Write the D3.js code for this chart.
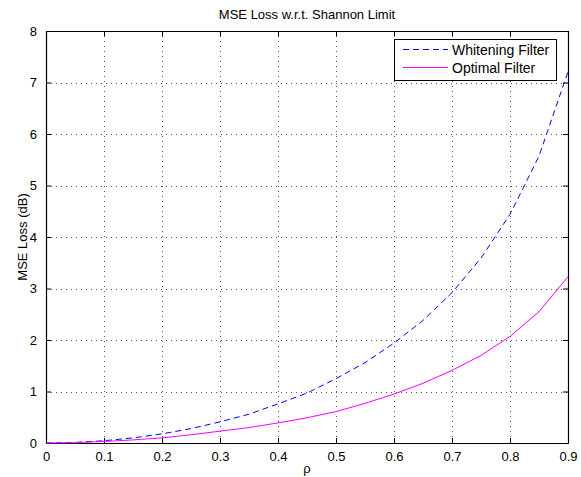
<!DOCTYPE html>
<html lang="en">
<head>
  <meta charset="UTF-8">
  <title>MSE Loss w.r.t. Shannon Limit</title>
  <script src="https://d3js.org/d3.v7.min.js"></script>
  <style>
    body { margin: 0; background: #fff; }
    svg { display: block; font-family: "Liberation Sans", Arial, sans-serif; }
  </style>
</head>
<body>
  <svg width="581" height="477"></svg>

  <script>
    // values
    const rho = [0, 0.05, 0.1, 0.15, 0.2, 0.25, 0.3, 0.35, 0.4, 0.45, 0.5, 0.55, 0.6, 0.65, 0.7, 0.75, 0.8, 0.85, 0.9];
    const whitening = [0, 0.011, 0.044, 0.099, 0.177, 0.28, 0.41, 0.56, 0.76, 0.97, 1.25, 1.56, 1.94, 2.38, 2.92, 3.59, 4.44, 5.57, 7.21];
    const optimal = [0, 0.007, 0.03, 0.06, 0.1, 0.16, 0.23, 0.3, 0.39, 0.49, 0.61, 0.77, 0.95, 1.16, 1.41, 1.7, 2.07, 2.55, 3.23];
    const xTicks = [0, 0.1, 0.2, 0.3, 0.4, 0.5, 0.6, 0.7, 0.8, 0.9];
    const yTicks = [0, 1, 2, 3, 4, 5, 6, 7, 8];
    const seriesNames = ["Whitening Filter", "Optimal Filter"];

    const svg = d3.select("svg");
    const margin = { top: 31, right: 13, bottom: 34, left: 46 };
    const width = 581 - margin.left - margin.right;
    const height = 477 - margin.top - margin.bottom;

    const x = d3.scaleLinear().domain([0, 0.9]).range([margin.left, margin.left + width]);
    const y = d3.scaleLinear().domain([0, 8]).range([margin.top + height, margin.top]);

    // dotted grid
    const grid = svg.append("g").attr("stroke", "#555").attr("stroke-width", 1)
      .attr("stroke-dasharray", "1,4");
    grid.selectAll(".gx").data(xTicks.slice(1, -1)).join("line")
      .attr("x1", d => Math.round(x(d)) + 0.5).attr("x2", d => Math.round(x(d)) + 0.5)
      .attr("y1", margin.top).attr("y2", margin.top + height);
    grid.selectAll(".gy").data(yTicks.slice(1, -1)).join("line")
      .attr("y1", d => Math.round(y(d)) + 0.5).attr("y2", d => Math.round(y(d)) + 0.5)
      .attr("x1", margin.left).attr("x2", margin.left + width);

    // axes with inward ticks
    const fmtX = d => d === 0 ? "0" : d3.format(".1f")(d);
    const axBottom = svg.append("g").attr("transform", `translate(0,${margin.top + height})`)
      .call(d3.axisBottom(x).tickValues(xTicks).tickFormat(fmtX).tickSizeInner(-5).tickSizeOuter(0).tickPadding(9));
    const axTop = svg.append("g").attr("transform", `translate(0,${margin.top})`)
      .call(d3.axisTop(x).tickValues(xTicks).tickFormat("").tickSizeInner(-5).tickSizeOuter(0));
    const axLeft = svg.append("g").attr("transform", `translate(${margin.left},0)`)
      .call(d3.axisLeft(y).tickValues(yTicks).tickSizeInner(-5).tickSizeOuter(0).tickPadding(9));
    const axRight = svg.append("g").attr("transform", `translate(${margin.left + width},0)`)
      .call(d3.axisRight(y).tickValues(yTicks).tickFormat("").tickSizeInner(-5).tickSizeOuter(0));

    [axBottom, axTop, axLeft, axRight].forEach(g => {
      g.select(".domain").attr("stroke", "#000").attr("stroke-width", 1.2);
      g.selectAll(".tick line").attr("stroke", "#000");
      g.selectAll("text").attr("font-size", 13).attr("fill", "#000")
        .attr("font-family", "'Liberation Sans', Arial, sans-serif");
    });

    // curves
    const line = d3.line().x(d => x(d[0])).y(d => y(d[1]));
    svg.append("path")
      .datum(rho.map((r, i) => [r, whitening[i]]))
      .attr("fill", "none").attr("stroke", "#0000ff").attr("stroke-width", 1)
      .attr("stroke-dasharray", "6,4").attr("d", line);
    svg.append("path")
      .datum(rho.map((r, i) => [r, optimal[i]]))
      .attr("fill", "none").attr("stroke", "#ff00ff").attr("stroke-width", 1)
      .attr("d", line);

    // legend
    const lg = svg.append("g");
    lg.append("rect").attr("x", 394.5).attr("y", 39.5).attr("width", 162).attr("height", 41)
      .attr("fill", "#fff").attr("stroke", "#000").attr("stroke-width", 1);
    const items = [
      { name: seriesNames[0], color: "#0000ff", dash: "6,4" },
      { name: seriesNames[1], color: "#ff00ff", dash: null }
    ];
    items.forEach((it, i) => {
      const yy = 49.5 + i * 18;
      lg.append("line").attr("x1", 403).attr("x2", 448).attr("y1", yy).attr("y2", yy)
        .attr("stroke", it.color).attr("stroke-width", 1).attr("stroke-dasharray", it.dash);
      lg.append("text").attr("x", 452).attr("y", yy + 5).attr("font-size", 14)
        .text(it.name);
    });

    // labels
    svg.append("text").attr("x", x(0.45)).attr("y", 19).attr("text-anchor", "middle")
      .attr("font-size", 13).text("MSE Loss w.r.t. Shannon Limit");
    svg.append("text").attr("x", x(0.45)).attr("y", 473).attr("text-anchor", "middle")
      .attr("font-size", 13).text("ρ");
    svg.append("text").attr("transform", `translate(27,${y(4)}) rotate(-90)`)
      .attr("text-anchor", "middle").attr("font-size", 13).text("MSE Loss (dB)");
  </script>
</body>
</html>
